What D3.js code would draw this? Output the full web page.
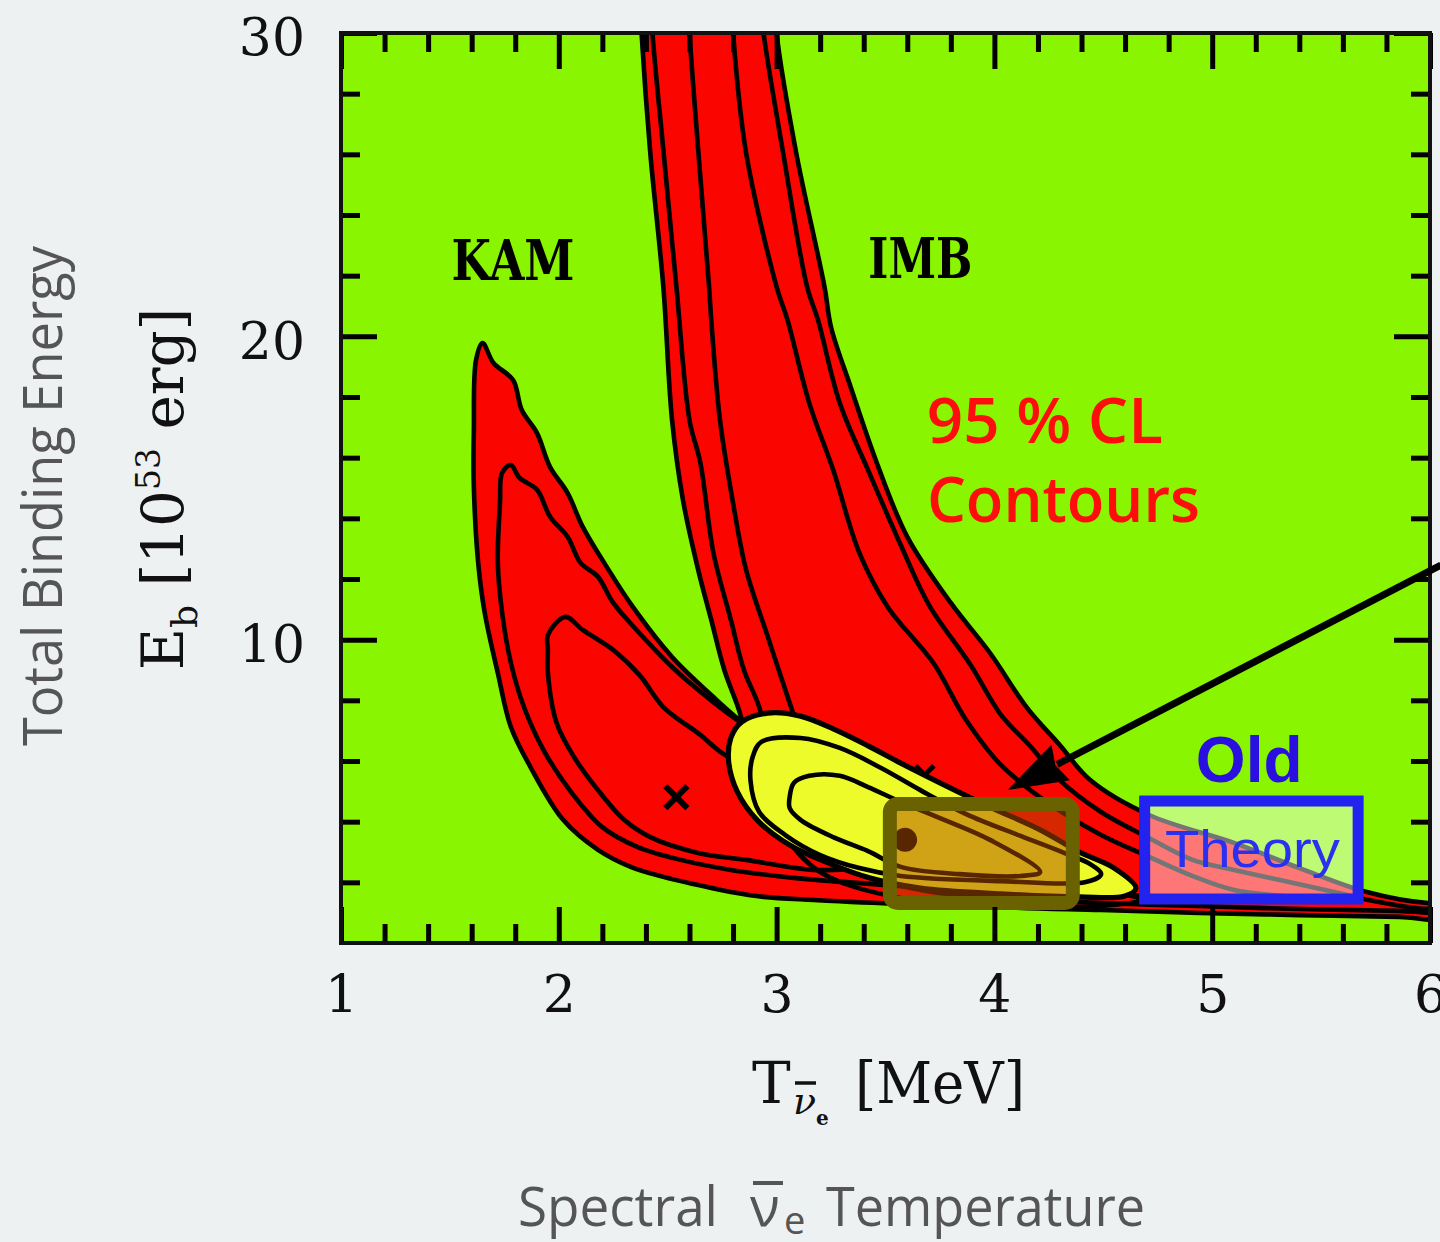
<!DOCTYPE html>
<html>
<head>
<meta charset="utf-8">
<script src="https://cdn.jsdelivr.net/npm/d3@7"></script>
<style>
  html, body { margin: 0; padding: 0; background: #eef1f2; }
  svg { display: block; }
</style>
</head>
<body>
<svg id="chart" width="1440" height="1242"></svg>
<script>
// ---------- axis ticks ----------
const tempTicks = [1, 2, 3, 4, 5, 6];
const tempMinorTicks = [1.2, 1.4, 1.6, 1.8, 2.2, 2.4, 2.6, 2.8, 3.2, 3.4, 3.6, 3.8,
                        4.2, 4.4, 4.6, 4.8, 5.2, 5.4, 5.6, 5.8];
const energyTicks = [10, 20, 30];
const energyMinorTicks = [2, 4, 6, 8, 12, 14, 16, 18, 22, 24, 26, 28];

// ---------- confidence contours: [T (MeV), Eb (1e53 erg)] ----------
// Kamiokande
const kamOuter = [[1.65,19.78],[1.70,19.12],[1.79,18.56],[1.83,17.57],[1.90,16.81],[1.96,15.69],
  [2.04,14.84],[2.11,13.72],[2.22,12.40],[2.34,11.08],[2.52,9.43],[2.71,8.11],[2.83,7.35],
  [3.11,5.87],[3.48,4.38],[3.93,2.90],[4.39,1.91],[4.67,1.42],
  [4.49,1.22],[4.03,1.22],[3.57,1.29],[3.17,1.42],[2.94,1.52],[2.79,1.68],[2.64,1.91],[2.48,2.18],
  [2.33,2.51],[2.18,3.07],[2.02,4.06],[1.87,5.80],[1.78,7.12],[1.72,8.90],[1.66,10.88],[1.63,12.53],
  [1.61,15.03],[1.61,16.91],[1.62,19.22]];
const kamMid = [[1.78,15.76],[1.82,15.33],[1.90,14.94],[1.96,14.05],[2.04,13.39],[2.10,12.53],
  [2.18,12.07],[2.25,11.21],[2.37,10.22],[2.52,9.10],[2.68,8.11],[2.80,7.45],
  [3.11,6.03],[3.48,4.71],[3.93,3.30],[4.39,2.24],[4.58,1.81],
  [4.26,1.65],[3.80,1.78],[3.43,1.95],[3.09,2.14],[2.79,2.41],[2.56,2.74],[2.36,3.17],[2.20,3.82],
  [2.05,5.04],[1.93,6.36],[1.84,7.78],[1.78,9.23],[1.74,10.88],[1.72,12.53],[1.73,14.51],[1.74,15.50]];
const kamInner = [[1.95,10.15],[2.03,10.75],[2.11,10.32],[2.25,9.66],[2.37,8.84],[2.48,7.78],
  [2.65,6.86],[2.75,6.26],[3.06,5.04],[3.38,4.06],[3.70,3.23],[3.98,2.67],
  [3.75,2.47],[3.43,2.47],[3.17,2.41],[2.86,2.74],[2.64,2.97],[2.42,3.49],[2.30,4.06],[2.18,5.04],
  [2.07,6.13],[1.99,7.25],[1.95,8.90],[1.95,9.66]];

// IMB
const imbOuter = [[2.37,31.5],[2.38,30.0],[2.42,26.05],[2.48,21.63],[2.52,17.24],[2.57,14.61],
  [2.64,12.30],[2.70,10.65],[2.76,9.00],[2.83,7.62],[2.90,5.70],[3.02,3.73],[3.20,2.34],[3.57,1.48],
  [4.03,1.19],[4.49,1.09],[4.94,0.99],[5.40,0.92],[5.86,0.86],[6.07,0.82],
  [6.07,1.35],[5.99,1.32],[5.71,1.68],[5.40,2.47],[5.10,3.30],[4.71,4.22],[4.44,5.37],[4.30,6.53],
  [4.15,7.75],[3.98,9.56],[3.80,11.21],[3.60,13.39],[3.46,15.83],[3.34,18.33],[3.25,20.30],
  [3.22,21.63],[3.09,26.05],[3.00,30.0],[2.99,31.5]];
const imbMid = [[2.42,31.5],[2.43,30.0],[2.48,26.15],[2.54,21.63],[2.60,17.24],[2.65,15.83],
  [2.71,12.86],[2.79,10.65],[2.85,9.00],[2.92,7.78],[2.99,5.70],[3.11,3.73],[3.34,2.41],[3.66,1.75],
  [4.03,1.48],[4.49,1.32],[4.94,1.22],[5.40,1.12],[5.86,1.06],[6.07,1.02],
  [6.07,1.10],[5.95,1.14],[5.73,1.40],[5.56,1.68],[5.10,2.41],[4.91,2.74],[4.71,3.46],[4.49,4.32],
  [4.30,5.37],[4.16,6.53],[4.03,7.52],[3.89,9.17],[3.70,11.14],[3.57,13.12],[3.42,15.59],
  [3.29,17.80],[3.19,20.54],[3.14,21.63],[3.03,26.05],[2.94,30.0],[2.92,31.5]];
const imbInner = [[2.59,31.5],[2.60,30.0],[2.64,26.15],[2.69,21.63],[2.70,20.54],[2.74,17.24],
  [2.80,14.51],[2.86,12.30],[2.96,10.09],[3.06,7.91],[3.15,6.03],[3.29,4.06],[3.48,2.74],[3.80,2.08],
  [4.26,1.75],[4.71,1.55],[5.17,1.45],[5.50,1.42],
  [5.10,1.75],[4.90,2.24],[4.71,2.84],[4.49,3.56],[4.26,4.55],[4.03,5.87],[3.87,7.35],[3.72,9.23],
  [3.51,11.08],[3.38,12.86],[3.26,15.59],[3.15,17.80],[3.05,20.54],[3.00,21.63],[2.86,26.05],
  [2.80,30.0],[2.79,31.5]];

// Combined fit
const jointOuter = [[2.78,5.97],[2.79,6.76],[2.84,7.29],[2.96,7.58],[3.11,7.48],[3.26,7.06],
  [3.42,6.50],[3.57,5.93],[3.75,5.28],[3.98,4.48],[4.21,3.73],[4.39,3.00],[4.55,2.47],[4.65,1.81],
  [4.60,1.55],[4.39,1.52],[4.03,1.62],[3.66,1.81],[3.43,2.14],[3.25,2.60],[3.06,3.23],[2.91,4.06],
  [2.82,4.98]];
const jointMid = [[2.88,5.37],[2.89,6.13],[2.93,6.63],[3.11,6.76],[3.29,6.43],[3.48,5.77],
  [3.66,5.04],[3.87,4.25],[4.12,3.53],[4.32,2.97],[4.44,2.60],[4.49,2.27],[4.42,2.01],[4.03,2.04],
  [3.57,2.21],[3.38,2.47],[3.20,2.90],[3.04,3.56],[2.92,4.32]];
const jointInner = [[3.06,4.81],[3.08,5.28],[3.15,5.51],[3.29,5.51],[3.42,5.14],[3.57,4.65],
  [3.75,4.12],[3.98,3.40],[4.21,2.34],[4.12,2.21],[3.84,2.27],[3.57,2.51],[3.42,3.03],[3.26,3.49],
  [3.11,4.06],[3.06,4.45]];

// Best-fit points
const kamBest = [2.54, 4.81];
const imbBest = [3.68, 5.54];
const jointBest = [3.59, 3.40];

// Highlighted ranges: [[Tmin, Emin], [Tmax, Emax]]
const modernRangeBox = [[3.52, 1.32], [4.36, 4.58]];
const oldTheoryBox = [[4.69, 1.45], [5.67, 4.68]];

// Pointer arrow: [from, to]
const pointerArrow = [[6.05, 12.46], [4.06, 5.04]];

// ---------- colours ----------
const GREEN = "#8af500", RED = "#fa0500", YELLOW = "#eefb2a";

// ---------- scales ----------
const svg = d3.select("#chart");
const x = d3.scaleLinear().domain([1, 6]).range([341, 1430]);
const y = d3.scaleLinear().domain([0, 30]).range([943, 33]);

svg.append("rect").attr("width", 1440).attr("height", 1242).attr("fill", "#eef1f2");

svg.append("defs").append("clipPath").attr("id", "plot-clip")
  .append("rect")
  .attr("x", x(1)).attr("y", y(30))
  .attr("width", x(6) - x(1)).attr("height", y(0) - y(30));

svg.append("rect")
  .attr("x", x(1)).attr("y", y(30))
  .attr("width", x(6) - x(1)).attr("height", y(0) - y(30))
  .attr("fill", GREEN);

const plot = svg.append("g").attr("clip-path", "url(#plot-clip)");
const contour = d3.line()
  .x(d => x(d[0])).y(d => y(d[1]))
  .curve(d3.curveCatmullRomClosed.alpha(0.5));

// filled 95% regions
[kamOuter, imbOuter].forEach(c =>
  plot.append("path").attr("d", contour(c)).attr("fill", RED));

// contour lines of both detectors
[kamOuter, kamMid, kamInner, imbOuter, imbMid, imbInner].forEach(c =>
  plot.append("path").attr("d", contour(c))
    .attr("fill", "none").attr("stroke", "#000")
    .attr("stroke-width", 4.6).attr("stroke-linejoin", "round"));

// best-fit crosses
const cross = d3.symbol().type(d3.symbolX);
plot.append("path")
  .attr("transform", `translate(${x(kamBest[0])},${y(kamBest[1])})`)
  .attr("d", cross.size(320)())
  .attr("fill", "none").attr("stroke", "#000").attr("stroke-width", 6);
plot.append("path")
  .attr("transform", `translate(${x(imbBest[0])},${y(imbBest[1])})`)
  .attr("d", cross.size(220)())
  .attr("fill", "none").attr("stroke", "#000").attr("stroke-width", 5);

// combined region
plot.append("path").attr("d", contour(jointOuter))
  .attr("fill", YELLOW).attr("stroke", "#000").attr("stroke-width", 5.2)
  .attr("stroke-linejoin", "round");
[jointMid, jointInner].forEach(c =>
  plot.append("path").attr("d", contour(c))
    .attr("fill", "none").attr("stroke", "#000").attr("stroke-width", 4.6)
    .attr("stroke-linejoin", "round"));
plot.append("circle")
  .attr("cx", x(jointBest[0])).attr("cy", y(jointBest[1])).attr("r", 12)
  .attr("fill", "#000");

// present-day range
plot.append("rect")
  .attr("x", x(modernRangeBox[0][0])).attr("y", y(modernRangeBox[1][1]))
  .attr("width", x(modernRangeBox[1][0]) - x(modernRangeBox[0][0]))
  .attr("height", y(modernRangeBox[0][1]) - y(modernRangeBox[1][1]))
  .attr("rx", 8)
  .attr("fill", "rgba(175,75,0,0.5)")
  .attr("stroke", "#6a6200").attr("stroke-width", 14);

// old theory range
plot.append("rect")
  .attr("x", x(oldTheoryBox[0][0])).attr("y", y(oldTheoryBox[1][1]))
  .attr("width", x(oldTheoryBox[1][0]) - x(oldTheoryBox[0][0]))
  .attr("height", y(oldTheoryBox[0][1]) - y(oldTheoryBox[1][1]))
  .attr("fill", "rgba(255,255,255,0.46)")
  .attr("stroke", "#2323f0").attr("stroke-width", 11);

// ---------- axes (inward ticks on all sides) ----------
const serif = "'DejaVu Serif', serif";
function styleAxis(g) {
  g.select(".domain").remove();
  g.selectAll(".tick line").attr("stroke", "#000").attr("stroke-width", 5);
  g.selectAll(".tick text").attr("font-family", serif).attr("font-size", 52).attr("fill", "#111");
}
svg.append("g").attr("transform", `translate(0,${y(0)})`)
  .call(d3.axisBottom(x).tickValues(tempTicks).tickSize(-36).tickPadding(32).tickFormat(d3.format("d")))
  .call(styleAxis);
svg.append("g").attr("transform", `translate(0,${y(0)})`)
  .call(d3.axisBottom(x).tickValues(tempMinorTicks).tickSize(-19).tickFormat(""))
  .call(styleAxis);
svg.append("g").attr("transform", `translate(0,${y(30)})`)
  .call(d3.axisTop(x).tickValues(tempTicks).tickSize(-36).tickFormat(""))
  .call(styleAxis);
svg.append("g").attr("transform", `translate(0,${y(30)})`)
  .call(d3.axisTop(x).tickValues(tempMinorTicks).tickSize(-19).tickFormat(""))
  .call(styleAxis);
const leftAxis = svg.append("g").attr("transform", `translate(${x(1)},0)`)
  .call(d3.axisLeft(y).tickValues(energyTicks).tickSize(-36).tickPadding(36).tickFormat(d3.format("d")))
  .call(styleAxis);
leftAxis.selectAll(".tick text").attr("dy", "0.42em");
svg.append("g").attr("transform", `translate(${x(1)},0)`)
  .call(d3.axisLeft(y).tickValues(energyMinorTicks).tickSize(-19).tickFormat(""))
  .call(styleAxis);
svg.append("g").attr("transform", `translate(${x(6)},0)`)
  .call(d3.axisRight(y).tickValues(energyTicks).tickSize(-36).tickFormat(""))
  .call(styleAxis);
svg.append("g").attr("transform", `translate(${x(6)},0)`)
  .call(d3.axisRight(y).tickValues(energyMinorTicks).tickSize(-19).tickFormat(""))
  .call(styleAxis);

// frame
svg.append("rect")
  .attr("x", x(1)).attr("y", y(30))
  .attr("width", x(6) - x(1)).attr("height", y(0) - y(30))
  .attr("fill", "none").attr("stroke", "#111").attr("stroke-width", 4);

// ---------- in-plot labels ----------
svg.append("text")
  .attr("x", x(1.79)).attr("y", y(21.86)).attr("text-anchor", "middle")
  .attr("font-family", serif).attr("font-weight", "bold").attr("font-size", 56)
  .attr("textLength", 123).attr("lengthAdjust", "spacingAndGlyphs")
  .attr("fill", "#000").text("KAM");
svg.append("text")
  .attr("x", x(3.66)).attr("y", y(21.93)).attr("text-anchor", "middle")
  .attr("font-family", serif).attr("font-weight", "bold").attr("font-size", 56)
  .attr("textLength", 104).attr("lengthAdjust", "spacingAndGlyphs")
  .attr("fill", "#000").text("IMB");

const clFont = "'Open Sans', sans-serif";
svg.append("text")
  .attr("x", x(3.69)).attr("y", y(16.49))
  .attr("font-family", clFont).attr("font-weight", 600).attr("font-size", 63)
  .attr("textLength", 236).attr("lengthAdjust", "spacingAndGlyphs")
  .attr("fill", "#ff0c0c").text("95 % CL");
svg.append("text")
  .attr("x", x(3.69)).attr("y", y(13.88))
  .attr("font-family", clFont).attr("font-weight", 600).attr("font-size", 63)
  .attr("textLength", 273).attr("lengthAdjust", "spacingAndGlyphs")
  .attr("fill", "#ff0c0c").text("Contours");

svg.append("text")
  .attr("x", x(4.925)).attr("y", y(5.31))
  .attr("font-family", "'Liberation Sans', Arial, sans-serif").attr("font-weight", "bold")
  .attr("font-size", 64).attr("fill", "#2a10e0").text("Old");
svg.append("text")
  .attr("x", x(4.783)).attr("y", y(2.51))
  .attr("font-family", "'Liberation Sans', Arial, sans-serif")
  .attr("font-size", 52).attr("textLength", 175).attr("lengthAdjust", "spacingAndGlyphs")
  .attr("fill", "#2a30f0").text("Theory");

// pointer arrow
{
  const [p0, p1] = pointerArrow;
  const x0 = x(p0[0]), y0 = y(p0[1]), x1 = x(p1[0]), y1 = y(p1[1]);
  const len = Math.hypot(x0 - x1, y0 - y1);
  const ux = (x0 - x1) / len, uy = (y0 - y1) / len;
  const px = -uy, py = ux;
  const headLen = 60, halfW = 20;
  const bx = x1 + ux * headLen, by = y1 + uy * headLen;
  svg.append("line")
    .attr("x1", x0).attr("y1", y0).attr("x2", bx - ux * 4).attr("y2", by - uy * 4)
    .attr("stroke", "#000").attr("stroke-width", 7);
  svg.append("path")
    .attr("d", `M${x1},${y1}L${bx + px * halfW},${by + py * halfW}L${bx - ux * 6},${by - uy * 6}L${bx - px * halfW},${by - py * halfW}Z`)
    .attr("fill", "#000");
}

// ---------- axis titles ----------
const eTitle = svg.append("text")
  .attr("transform", "translate(183,489) rotate(-90)")
  .attr("text-anchor", "middle")
  .attr("font-family", serif).attr("font-size", 58).attr("fill", "#111");
eTitle.append("tspan").text("E");
eTitle.append("tspan").attr("font-size", 36).attr("dy", 14).text("b");
eTitle.append("tspan").attr("dy", -14).text(" [10");
eTitle.append("tspan").attr("font-size", 33).attr("dy", -23).text("53");
eTitle.append("tspan").attr("dy", 23).text(" erg]");

svg.append("text")
  .attr("transform", "translate(62,496) rotate(-90)")
  .attr("text-anchor", "middle")
  .attr("font-family", clFont).attr("font-size", 54)
  .attr("textLength", 500).attr("lengthAdjust", "spacingAndGlyphs")
  .attr("fill", "#555").text("Total Binding Energy");

// T_{anti-nu_e} [MeV]
svg.append("text").attr("x", 752).attr("y", 1103)
  .attr("font-family", serif).attr("font-size", 58).attr("fill", "#111").text("T");
svg.append("text").attr("x", 793).attr("y", 1114)
  .attr("font-family", serif).attr("font-style", "italic").attr("font-size", 38)
  .attr("fill", "#111").text("ν");
svg.append("line").attr("x1", 795).attr("x2", 816).attr("y1", 1083).attr("y2", 1083)
  .attr("stroke", "#111").attr("stroke-width", 3.5);
svg.append("text").attr("x", 816).attr("y", 1125)
  .attr("font-family", serif).attr("font-weight", "bold").attr("font-size", 20)
  .attr("fill", "#111").text("e");
svg.append("text").attr("x", 855).attr("y", 1103)
  .attr("font-family", serif).attr("font-size", 58)
  .attr("textLength", 170).attr("lengthAdjust", "spacingAndGlyphs")
  .attr("fill", "#111").text("[MeV]");

// Spectral anti-nu_e Temperature
svg.append("text").attr("x", 518).attr("y", 1226)
  .attr("font-family", clFont).attr("font-size", 55)
  .attr("textLength", 200).attr("lengthAdjust", "spacingAndGlyphs")
  .attr("fill", "#555").text("Spectral");
svg.append("text").attr("x", 750).attr("y", 1226)
  .attr("font-family", clFont).attr("font-size", 55).attr("fill", "#555").text("ν");
svg.append("line").attr("x1", 753).attr("x2", 783).attr("y1", 1183).attr("y2", 1183)
  .attr("stroke", "#555").attr("stroke-width", 4);
svg.append("text").attr("x", 784).attr("y", 1234)
  .attr("font-family", clFont).attr("font-size", 38).attr("fill", "#555").text("e");
svg.append("text").attr("x", 826).attr("y", 1226)
  .attr("font-family", clFont).attr("font-size", 55)
  .attr("textLength", 319).attr("lengthAdjust", "spacingAndGlyphs")
  .attr("fill", "#555").text("Temperature");
</script>
</body>
</html>
